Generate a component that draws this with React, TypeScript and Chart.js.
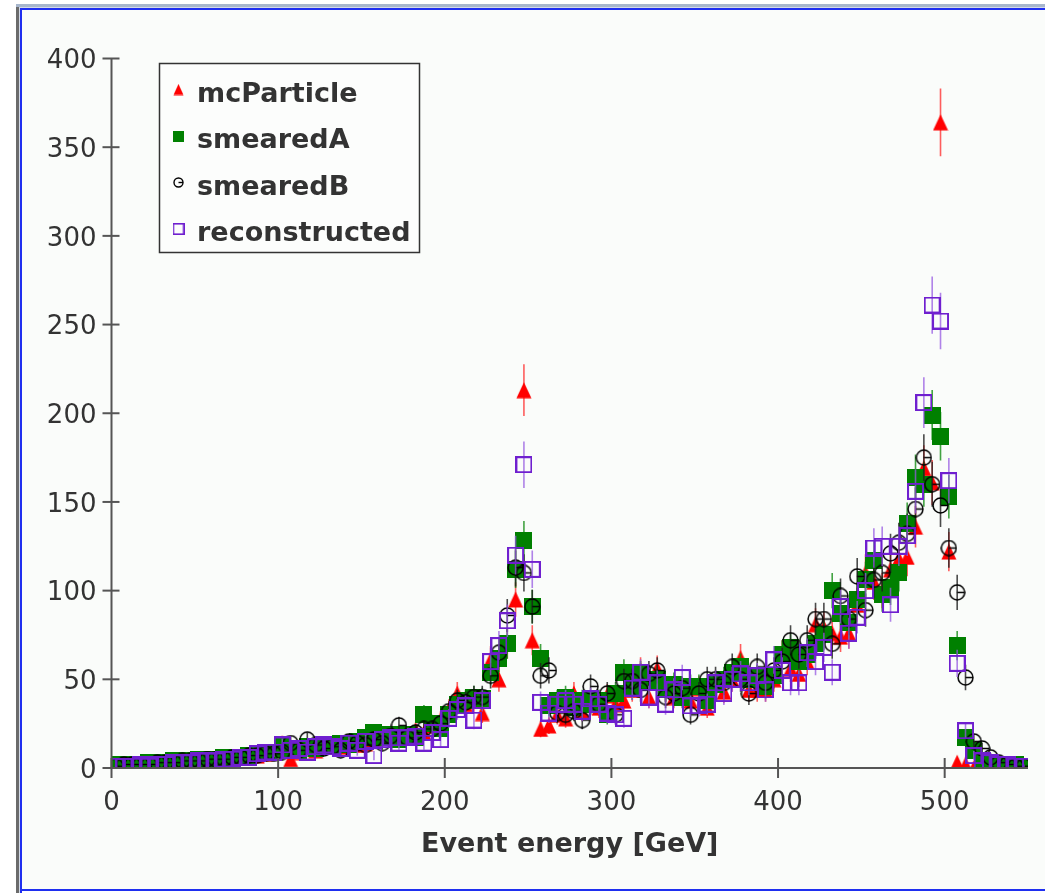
import React, { useEffect, useRef } from 'react';
import { Chart, registerables } from 'chart.js';

Chart.register(...registerables);

// 5 GeV histogram bins, 0..550 GeV
const BIN_WIDTH = 5;
const BIN_COUNT = 110;
const BIN_CENTERS: number[] = [];
for (let i = 0; i < BIN_COUNT; i++) BIN_CENTERS.push(BIN_WIDTH / 2 + BIN_WIDTH * i);

const X_TICKS = [0, 100, 200, 300, 400, 500];
const Y_TICKS = [0, 50, 100, 150, 200, 250, 300, 350, 400];

const SERIES_NAMES = ['mcParticle', 'smearedA', 'smearedB', 'reconstructed'];

const MC_PARTICLE = [
  1, 2, 2, 2, 3, 2, 3, 3, 4, 3,
  4, 5, 4, 6, 5, 6, 7, 7, 8, 9,
  14, 5, 9, 11, 10, 12, 13, 12, 15, 13,
  14, 16, 18, 17, 19, 18, 21, 20, 24, 27,
  33, 42, 36, 38, 31, 61, 50, 70, 95, 213,
  72, 22, 24, 30, 28, 42, 32, 36, 34, 41,
  36, 38, 44, 55, 40, 56, 44, 40, 42, 38,
  45, 34, 48, 43, 50, 62, 44, 44, 44, 50,
  64, 56, 53, 60, 81, 79, 76, 74, 76, 92,
  110, 105, 100, 112, 118, 119, 136, 169, 161, 364,
  122, 3, 2, 0, 0, 0, 0, 0, 0, 0,
];

const SMEARED_A = [
  2, 2, 2, 2, 3, 3, 3, 4, 4, 4,
  5, 5, 5, 6, 6, 6, 7, 8, 9, 9,
  12, 11, 10, 12, 11, 13, 12, 14, 13, 15,
  17, 20, 17, 19, 16, 19, 17, 30, 25, 22,
  30, 36, 38, 40, 39, 54, 62, 70, 112, 128,
  91, 62, 35, 38, 40, 34, 38, 36, 38, 30,
  42, 54, 45, 53, 48, 50, 44, 47, 40, 46,
  46, 38, 47, 50, 54, 57, 50, 51, 46, 52,
  64, 68, 60, 64, 70, 75, 100, 87, 82, 95,
  106, 117, 98, 102, 110, 138, 164, 160, 199, 187,
  153, 69, 17, 10, 4, 3, 2, 2, 2, 1,
];

const SMEARED_B = [
  1, 2, 2, 2, 2, 3, 3, 3, 4, 4,
  4, 5, 5, 5, 6, 6, 7, 7, 8, 8,
  9, 14, 10, 16, 13, 11, 12, 10, 15, 14,
  13, 16, 14, 18, 24, 17, 20, 22, 22, 25,
  32, 38, 37, 40, 40, 52, 65, 86, 113, 110,
  91, 52, 55, 31, 30, 32, 27, 46, 36, 42,
  30, 49, 49, 44, 53, 55, 40, 42, 45, 30,
  42, 50, 50, 48, 57, 50, 42, 57, 48, 55,
  60, 72, 64, 72, 84, 84, 70, 97, 84, 108,
  89, 106, 110, 121, 127, 132, 146, 175, 160, 148,
  124, 99, 51, 15, 11, 6, 3, 2, 1, 1,
];

const RECONSTRUCTED = [
  1, 1, 1, 2, 1, 2, 2, 3, 3, 3,
  4, 4, 4, 5, 5, 6, 6, 8, 9, 9,
  13, 10, 11, 9, 12, 13, 12, 11, 14, 10,
  15, 7, 16, 17, 14, 17, 18, 14, 20, 16,
  28, 33, 35, 27, 38, 60, 69, 83, 120, 171,
  112, 37, 31, 36, 38, 36, 32, 39, 36, 31,
  30, 28, 45, 54, 40, 48, 36, 44, 51, 35,
  35, 36, 48, 42, 50, 53, 48, 52, 44, 61,
  55, 48, 48, 65, 60, 68, 54, 91, 76, 85,
  100, 124, 125, 92, 125, 131, 156, 206, 261, 252,
  162, 59, 21, 7, 4, 3, 2, 2, 1, 1,
];

const RED = '#ff0000';
const GREEN = '#008000';
const BLACK = '#000000';
const PURPLE = '#6f1fcf';
const TEXT = '#333333';
const AXIS = '#555555';

function makeCanvas(w: number, h: number, draw: (c: CanvasRenderingContext2D) => void) {
  const cv = document.createElement('canvas');
  cv.width = w;
  cv.height = h;
  const c = cv.getContext('2d')!;
  draw(c);
  return cv;
}

function triangle(size: number, color: string) {
  return makeCanvas(size, size + 1, (c) => {
    c.fillStyle = color;
    c.beginPath();
    c.moveTo(size / 2, 0.5);
    c.lineTo(size - 0.5, size + 0.5);
    c.lineTo(0.5, size + 0.5);
    c.closePath();
    c.fill();
  });
}
function filledSquare(size: number, color: string) {
  return makeCanvas(size, size, (c) => {
    c.fillStyle = color;
    c.fillRect(0, 0, size, size);
  });
}
function openSquare(size: number, color: string, lw: number) {
  return makeCanvas(size, size, (c) => {
    c.strokeStyle = color;
    c.lineWidth = lw;
    c.strokeRect(lw / 2, lw / 2, size - lw, size - lw);
  });
}
function openCircle(size: number, color: string, lw: number) {
  return makeCanvas(size, size, (c) => {
    const r = size / 2 - lw / 2 - 0.3;
    c.strokeStyle = color;
    c.lineWidth = lw;
    c.beginPath();
    c.arc(size / 2, size / 2, r, 0, Math.PI * 2);
    c.stroke();
    c.beginPath();
    c.moveTo(size / 2, size / 2);
    c.lineTo(size / 2 + r, size / 2);
    c.stroke();
  });
}

const framePlugin = {
  id: 'frame',
  beforeDraw(chart: any) {
    const { ctx, width, height } = chart;
    ctx.save();
    ctx.fillStyle = '#ffffff';
    ctx.fillRect(0, 0, width, height);
    // outer grey frame
    ctx.fillStyle = '#6b6b6b';
    ctx.fillRect(16, 4, 3, height - 4);
    ctx.fillStyle = '#a7b6cc';
    ctx.fillRect(16, 4, width - 16, 3);
    ctx.fillStyle = '#d3dae6';
    ctx.fillRect(19, 7, 2, height - 7);
    ctx.fillRect(19, 7, width - 19, 1);
    // blue frame
    ctx.fillStyle = '#1f2ff0';
    ctx.fillRect(20, 8, 2, height - 8);
    ctx.fillRect(20, 8, width - 20, 2);
    ctx.fillRect(20, 889, width - 20, 2);
    // panel
    ctx.fillStyle = '#fafcfa';
    ctx.fillRect(22, 10, width - 22, 879);
    ctx.restore();
  },
};

const errorBarPlugin = {
  id: 'errorbars',
  beforeDatasetDraw(chart: any, args: any) {
    const ds = chart.data.datasets[args.index];
    const meta = args.meta;
    const ctx = chart.ctx;
    const ys = chart.scales.y;
    const a = chart.chartArea;
    ctx.save();
    ctx.beginPath();
    ctx.rect(a.left, a.top, a.right - a.left, a.bottom - a.top);
    ctx.clip();
    ctx.strokeStyle = ds.errorColor;
    ctx.lineWidth = 1.6;
    meta.data.forEach((pt: any, i: number) => {
      const v = ds.data[i].y;
      const e = Math.sqrt(v);
      if (!(e > 0)) return;
      ctx.beginPath();
      ctx.moveTo(pt.x, ys.getPixelForValue(v + e));
      ctx.lineTo(pt.x, ys.getPixelForValue(v - e));
      ctx.stroke();
    });
    ctx.restore();
  },
};

const axesPlugin = {
  id: 'axes',
  afterDatasetsDraw(chart: any) {
    const ctx = chart.ctx;
    const a = chart.chartArea;
    const xs = chart.scales.x;
    const ys = chart.scales.y;
    ctx.save();
    ctx.strokeStyle = AXIS;
    ctx.lineWidth = 2;
    const x0 = xs.getPixelForValue(0);
    const y0 = ys.getPixelForValue(0);
    ctx.beginPath();
    ctx.moveTo(x0, ys.getPixelForValue(400));
    ctx.lineTo(x0, y0);
    ctx.lineTo(a.right, y0);
    ctx.stroke();
    Y_TICKS.forEach((t) => {
      const y = ys.getPixelForValue(t);
      ctx.beginPath();
      ctx.moveTo(x0 - 9, y);
      ctx.lineTo(x0 + 8, y);
      ctx.stroke();
    });
    X_TICKS.forEach((t) => {
      const x = xs.getPixelForValue(t);
      ctx.beginPath();
      ctx.moveTo(x, y0 - 10);
      ctx.lineTo(x, y0 + 10);
      ctx.stroke();
    });
    ctx.restore();
  },
};

function makeLegendPlugin(markers: HTMLCanvasElement[]) {
  return {
    id: 'boxlegend',
    afterDraw(chart: any) {
      const ctx = chart.ctx;
      ctx.save();
      ctx.fillStyle = '#fcfdfc';
      ctx.fillRect(159.5, 63.5, 260, 189);
      ctx.strokeStyle = '#333333';
      ctx.lineWidth = 1.5;
      ctx.strokeRect(159.5, 63.5, 260, 189);
      ctx.font = 'bold 27px "DejaVu Sans"';
      ctx.fillStyle = TEXT;
      ctx.textBaseline = 'alphabetic';
      ctx.textAlign = 'left';
      SERIES_NAMES.forEach((name, i) => {
        const base = 101.5 + i * 46.5;
        const m = markers[i];
        ctx.drawImage(m, 178.5 - m.width / 2, base - 12 - m.height / 2);
        ctx.fillText(name, 197, base);
      });
      ctx.restore();
    },
  };
}

export default function App() {
  const ref = useRef<HTMLCanvasElement>(null);
  useEffect(() => {
    if (!ref.current) return;
    const mTri = triangle(16, RED);
    const mSqA = filledSquare(17, GREEN);
    const mCirc = openCircle(17, BLACK, 1.5);
    const mSqR = openSquare(17, PURPLE, 2);
    const legendMarkers = [
      triangle(11, RED),
      filledSquare(11, GREEN),
      openCircle(11, BLACK, 1.4),
      openSquare(12, PURPLE, 1.6),
    ];
    const toPts = (vals: number[]) => vals.map((v, i) => ({ x: BIN_CENTERS[i], y: v }));
    const mkDs = (label: string, vals: number[], style: HTMLCanvasElement, errorColor: string, order: number) => ({
      label,
      data: toPts(vals),
      pointStyle: style,
      pointRadius: 8,
      pointHoverRadius: 8,
      showLine: false,
      clip: 0,
      order,
      errorColor,
    });
    const chart = new Chart(ref.current, {
      type: 'scatter',
      data: {
        datasets: [
          mkDs(SERIES_NAMES[0], MC_PARTICLE, mTri, 'rgba(255,40,40,0.75)', 4),
          mkDs(SERIES_NAMES[1], SMEARED_A, mSqA, 'rgba(20,140,20,0.8)', 3),
          mkDs(SERIES_NAMES[2], SMEARED_B, mCirc, 'rgba(30,30,30,0.8)', 2),
          mkDs(SERIES_NAMES[3], RECONSTRUCTED, mSqR, 'rgba(150,90,225,0.75)', 1),
        ] as any,
      },
      options: {
        responsive: false,
        animation: false,
        devicePixelRatio: 1,
        events: [],
        layout: { padding: { top: 58.5, right: 17, bottom: 0, left: 0 } },
        plugins: { legend: { display: false }, tooltip: { enabled: false } },
        scales: {
          x: {
            type: 'linear',
            min: 0,
            max: 550,
            grid: { display: false, drawTicks: false },
            border: { display: false },
            afterFit: (s: any) => { s.height = 125; },
            afterBuildTicks: (s: any) => { s.ticks = X_TICKS.map((v) => ({ value: v })); },
            ticks: {
              autoSkip: false,
              maxRotation: 0,
              padding: 20,
              color: TEXT,
              font: { family: 'DejaVu Sans', size: 26 },
            },
            title: {
              display: true,
              text: 'Event energy [GeV]',
              color: TEXT,
              font: { family: 'DejaVu Sans', size: 27, weight: 'bold' },
              padding: { top: 32, bottom: 32 },
            },
          },
          y: {
            type: 'linear',
            min: 0,
            max: 400,
            grid: { display: false, drawTicks: false },
            border: { display: false },
            afterFit: (s: any) => { s.width = 111.5; },
            afterBuildTicks: (s: any) => { s.ticks = Y_TICKS.map((v) => ({ value: v })); },
            ticks: {
              padding: 15,
              labelOffset: 3,
              color: TEXT,
              font: { family: 'DejaVu Sans', size: 26 },
            },
          },
        },
      } as any,
      plugins: [framePlugin, errorBarPlugin, axesPlugin, makeLegendPlugin(legendMarkers)],
    });
    return () => chart.destroy();
  }, []);
  return (
    <div style={{ position: 'fixed', left: 0, top: 0, width: 1045, height: 893 }}>
      <canvas ref={ref} width={1045} height={893} style={{ display: 'block', width: 1045, height: 893 }} />
    </div>
  );
}
